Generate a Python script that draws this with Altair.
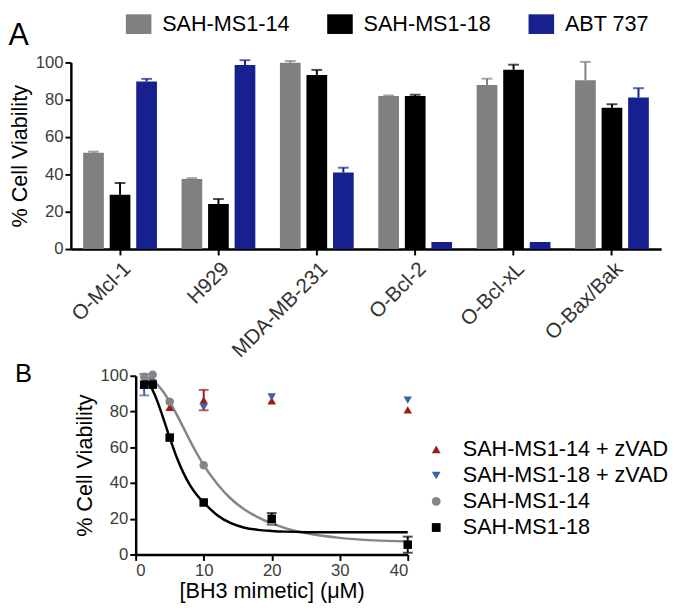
import altair as alt
import pandas as pd

FONT = "Liberation Sans"

# ---------------- Panel A data ----------------
cell_lines = ["O-Mcl-1", "H929", "MDA-MB-231", "O-Bcl-2", "O-Bcl-xL", "O-Bax/Bak"]
treatments = ["SAH-MS1-14", "SAH-MS1-18", "ABT 737"]
via_ms14 = [51.6, 37.6, 99.8, 82.0, 87.9, 90.4]
err_ms14 = [0.6, 0.4, 1.0, 0.3, 3.4, 9.9]
via_ms18 = [29.1, 24.1, 93.3, 82.0, 96.1, 75.7]
err_ms18 = [6.3, 2.7, 2.7, 0.7, 2.7, 1.9]
via_abt = [89.8, 98.6, 41.0, 3.8, 3.8, 81.2]
err_abt = [1.4, 2.6, 2.6, 0.0, 0.0, 5.0]
bar_colors = ["#808080", "#000000", "#16208e"]

# ---------------- Panel B data ----------------
doses = [1.25, 2.5, 5, 10, 20, 40]
series = ["SAH-MS1-14 + zVAD", "SAH-MS1-18 + zVAD", "SAH-MS1-14", "SAH-MS1-18"]
ms14_zvad = [97.0, 98.0, 82.4, 86.4, 86.0, 80.9]
ms14_zvad_err = [0, 0, 0, 5.7, 0, 0]
ms18_zvad = [95.0, 96.0, 84.5, 82.4, 88.2, 86.4]
ms18_zvad_err = [6.0, 0, 0, 0, 0, 0]
ms14 = [99.5, 100.5, 85.4, 50.0, 18.5, 5.5]
ms14_err = [0, 0, 0, 0, 0, 0]
ms18 = [95.0, 95.0, 65.4, 29.1, 20.0, 5.5]
ms18_err = [0, 0, 0, 0, 3.2, 4.5]
series_colors = ["#9b1d12", "#3d62a6", "#858585", "#000000"]
series_shapes = ["triangle-up", "triangle-down", "circle", "square"]

# fitted curves
curve_dose = [1.25, 2, 3, 4, 5, 6, 7, 8, 9, 10, 12, 14, 16, 18, 20, 22, 25, 30, 35, 40]
curve_ms14 = [99.6, 98.5, 95.7, 91.3, 85.4, 78.5, 71.1, 63.6, 56.5, 50.0,
              39.5, 31.2, 25.2, 20.8, 17.4, 14.8, 12.0, 9.3, 7.9, 7.3]
curve_ms18 = [98.7, 95.4, 87.6, 76.9, 65.4, 54.7, 45.8, 38.7, 33.3, 29.1,
              22.0, 17.5, 15.0, 13.8, 13.2, 12.8, 12.5, 12.4, 12.4, 12.4]

# layout helpers (pixels)
B_SHIFT = 66      # panel B plot starts this far right of panel A's plot
B_PLOT_W = 277

# ---------------- Panel A ----------------
rows = []
for t, vals, errs, c in zip(treatments, [via_ms14, via_ms18, via_abt],
                            [err_ms14, err_ms18, err_abt], bar_colors):
    for line, v, e in zip(cell_lines, vals, errs):
        rows.append({"line": line, "treatment": t, "value": v, "top": v + e,
                     "err": e, "col": c})
df_a = pd.DataFrame(rows)
df_a_err = df_a[df_a["err"] > 0]

x_a = alt.X("line:N", sort=cell_lines,
            scale=alt.Scale(paddingInner=0.25, paddingOuter=0.125),
            axis=alt.Axis(title=None, labelAngle=-45, labelFontSize=21,
                          labelPadding=3, labelColor="#333333"))
xo_a = alt.XOffset("treatment:N", sort=treatments,
                   scale=alt.Scale(paddingInner=0.22, paddingOuter=0))
ya_scale = alt.Scale(domain=[0, 100], nice=False)
ya_axis = alt.Axis(title="% Cell Viability", values=[0, 20, 40, 60, 80, 100])

bars = alt.Chart(df_a).mark_bar().encode(
    x=x_a, xOffset=xo_a,
    y=alt.Y("value:Q", scale=ya_scale, axis=ya_axis),
    color=alt.Color("treatment:N", sort=treatments,
                    scale=alt.Scale(domain=treatments, range=bar_colors),
                    legend=alt.Legend(title=None, orient="none", legendX=58, legendY=-50,
                                      direction="horizontal",
                                      symbolType="M-1.3,-1H1.3V1H-1.3Z", symbolSize=400,
                                      symbolStrokeWidth=0, symbolOpacity=1,
                                      labelFontSize=22, labelOffset=13, columnPadding=38,
                                      labelColor="black", labelFont=FONT, labelLimit=0)),
)
whisk = alt.Chart(df_a_err).mark_rule(strokeWidth=2).encode(
    x=x_a, xOffset=xo_a,
    y=alt.Y("value:Q", scale=ya_scale, axis=ya_axis), y2="top:Q",
    stroke=alt.Stroke("col:N", scale=None),
)
caps_a = alt.Chart(df_a_err).mark_tick(thickness=2, size=11).encode(
    x=x_a, xOffset=xo_a,
    y=alt.Y("top:Q", scale=ya_scale, axis=ya_axis),
    fill=alt.Fill("col:N", scale=None),
)
panel_a = alt.layer(bars, whisk, caps_a).properties(
    width=601, height=190,
    title=alt.TitleParams("A", anchor="start", frame="bounds", fontSize=31,
                          baseline="top", fontWeight="normal", font=FONT, dy=43,
                          color="black"),
)

# ---------------- Panel B ----------------
prow = []
for s, vals, errs, c in zip(series, [ms14_zvad, ms18_zvad, ms14, ms18],
                            [ms14_zvad_err, ms18_zvad_err, ms14_err, ms18_err],
                            series_colors):
    for d, v, e in zip(doses, vals, errs):
        prow.append({"series": s, "dose": d, "value": v, "lo": v - e, "hi": v + e,
                     "err": e, "col": c})
df_p = pd.DataFrame(prow)
df_p["ord"] = range(len(df_p))
df_e = df_p[df_p["err"] > 0]
df_caps = pd.concat([
    df_e.assign(cap=df_e["lo"]),
    df_e.assign(cap=df_e["hi"]),
])
df_curve = pd.DataFrame({"dose": curve_dose, "ms14": curve_ms14, "ms18": curve_ms18})

xb = alt.X("dose:Q",
           scale=alt.Scale(domain=[0, 40], nice=False, range=[B_SHIFT, B_SHIFT + B_PLOT_W]),
           axis=alt.Axis(title="[BH3 mimetic] (μM)", values=[0, 10, 20, 30, 40],
                         titlePadding=3))
yb_scale = alt.Scale(domain=[0, 100], nice=False)
yb_axis = alt.Axis(title="% Cell Viability", values=[0, 20, 40, 60, 80, 100],
                   offset=-B_SHIFT)

line14 = alt.Chart(df_curve).mark_line(color="#858585", strokeWidth=2.5,
                                        interpolate="monotone").encode(
    x=xb, y=alt.Y("ms14:Q", scale=yb_scale, axis=yb_axis))
line18 = alt.Chart(df_curve).mark_line(color="#000000", strokeWidth=2.5,
                                        interpolate="monotone").encode(
    x=xb, y=alt.Y("ms18:Q", scale=yb_scale, axis=yb_axis))
err_b = alt.Chart(df_e).mark_rule(strokeWidth=2).encode(
    x=xb, y=alt.Y("lo:Q", scale=yb_scale, axis=yb_axis), y2="hi:Q",
    stroke=alt.Stroke("col:N", scale=None))
caps_b = alt.Chart(df_caps).mark_tick(orient="horizontal", thickness=2, size=10).encode(
    x=xb, y=alt.Y("cap:Q", scale=yb_scale, axis=yb_axis),
    fill=alt.Fill("col:N", scale=None))
pts = alt.Chart(df_p).mark_point(filled=True, size=75, opacity=1).encode(
    x=xb, y=alt.Y("value:Q", scale=yb_scale, axis=yb_axis),
    color=alt.Color("series:N", sort=series,
                    scale=alt.Scale(domain=series, range=series_colors),
                    legend=alt.Legend(title=None, orient="none", legendX=361, legendY=64,
                                      labelFontSize=22, labelFont=FONT, labelColor="black",
                                      symbolSize=80, labelOffset=16, rowPadding=4.5,
                                      symbolOpacity=1, labelLimit=0)),
    shape=alt.Shape("series:N", sort=series,
                    scale=alt.Scale(domain=series, range=series_shapes)),
    order=alt.Order("ord:Q"),
)
panel_b = alt.layer(line14, line18, err_b, caps_b, pts).properties(
    width=B_SHIFT + B_PLOT_W, height=182,
    title=alt.TitleParams("B", anchor="start", frame="group", fontSize=26,
                          fontWeight="normal", font=FONT, dx=-57, dy=24, color="black"),
)

chart = alt.vconcat(panel_a, panel_b, spacing=0).resolve_scale(
    color="independent", shape="independent"
).resolve_legend(
    color="independent", shape="independent"
).properties(padding=0).configure_view(
    stroke=None
).configure_axis(
    grid=False, domainColor="black", domainWidth=2.5, tickColor="black", tickWidth=2,
    tickSize=6, labelFont=FONT, titleFont=FONT, labelFontSize=17, titleFontSize=22,
    labelColor="#3c3c3c", titleColor="black", titleFontWeight="normal", labelPadding=2,
    titlePadding=4,
)

chart.save("out.html", embed_options={"renderer": "svg", "actions": False})
